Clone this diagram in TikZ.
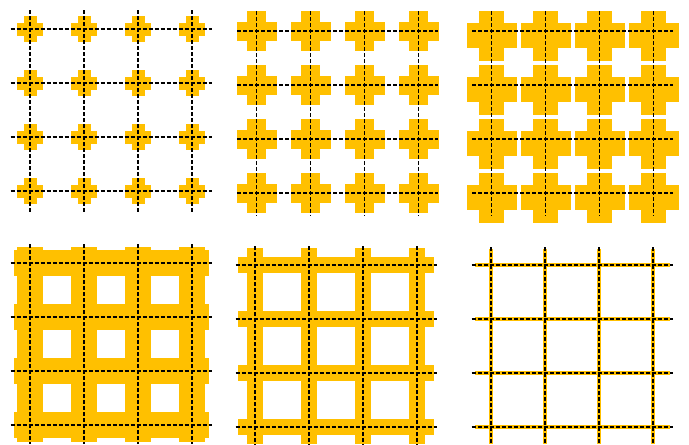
\documentclass[tikz,border=0pt]{standalone}
\definecolor{gold}{RGB}{255,192,0}
\newcommand\plusgrid[5]{% x0,y0,half-length,half-width,dy
  \foreach \i in {0,...,3}{\foreach \j in {0,...,3}{
    \pgfmathsetmacro\cx{#1+54*\i}\pgfmathsetmacro\cy{#2+54*\j+#5}
    \fill[goldfill] (\cx-#3,\cy-#4) rectangle (\cx+#3,\cy+#4);
    \fill[goldfill] (\cx-#4,\cy-#3) rectangle (\cx+#4,\cy+#3);
  }}}
\newcommand\bargrid[4]{% x0,y0,half-width,extension
  \foreach \k in {0,...,3}{
    \fill[goldfill] (#1-#4,#2+54*\k-#3) rectangle (#1+162+#4,#2+54*\k+#3);
    \fill[goldfill] (#1+54*\k-#3,#2-#4) rectangle (#1+54*\k+#3,#2+162+#4);
  }}
\newcommand\dashgrid[4]{% x0,y0,top ext,bottom ext
  \foreach \k in {0,...,3}{
    \draw[gridline] (#1-19.5,#2+54*\k) -- (#1+181.5,#2+54*\k);
    \draw[gridline] (#1+54*\k,#2-#3) -- (#1+54*\k,#2+162+#4);
  }}
\begin{document}
\begin{tikzpicture}[x=1pt,y=-1pt,
  goldfill/.style={fill=gold},
  gridline/.style={draw=black,line width=1.2pt,dash pattern=on 4pt off 2pt}]
\useasboundingbox (0,0) rectangle (689,445);
% top row: growing crosses
\plusgrid{30}{29}{13}{6.5}{0}
\plusgrid{256.5}{31}{20}{9.5}{0}
\plusgrid{491.5}{31}{25}{12.5}{4.5}
\dashgrid{30}{29}{19}{22}
\dashgrid{256.5}{31}{20}{23}
\dashgrid{491.5}{31}{20}{23}
% bottom row: grids of bars
\bargrid{30}{263}{13.3}{16.5}
\bargrid{255}{265}{8.3}{16.7}
\bargrid{491}{265}{2}{16.5}
\dashgrid{30}{263}{19}{18.5}
\dashgrid{255}{265}{19}{18}
\dashgrid{491}{265}{18}{18}
\end{tikzpicture}
\end{document}
